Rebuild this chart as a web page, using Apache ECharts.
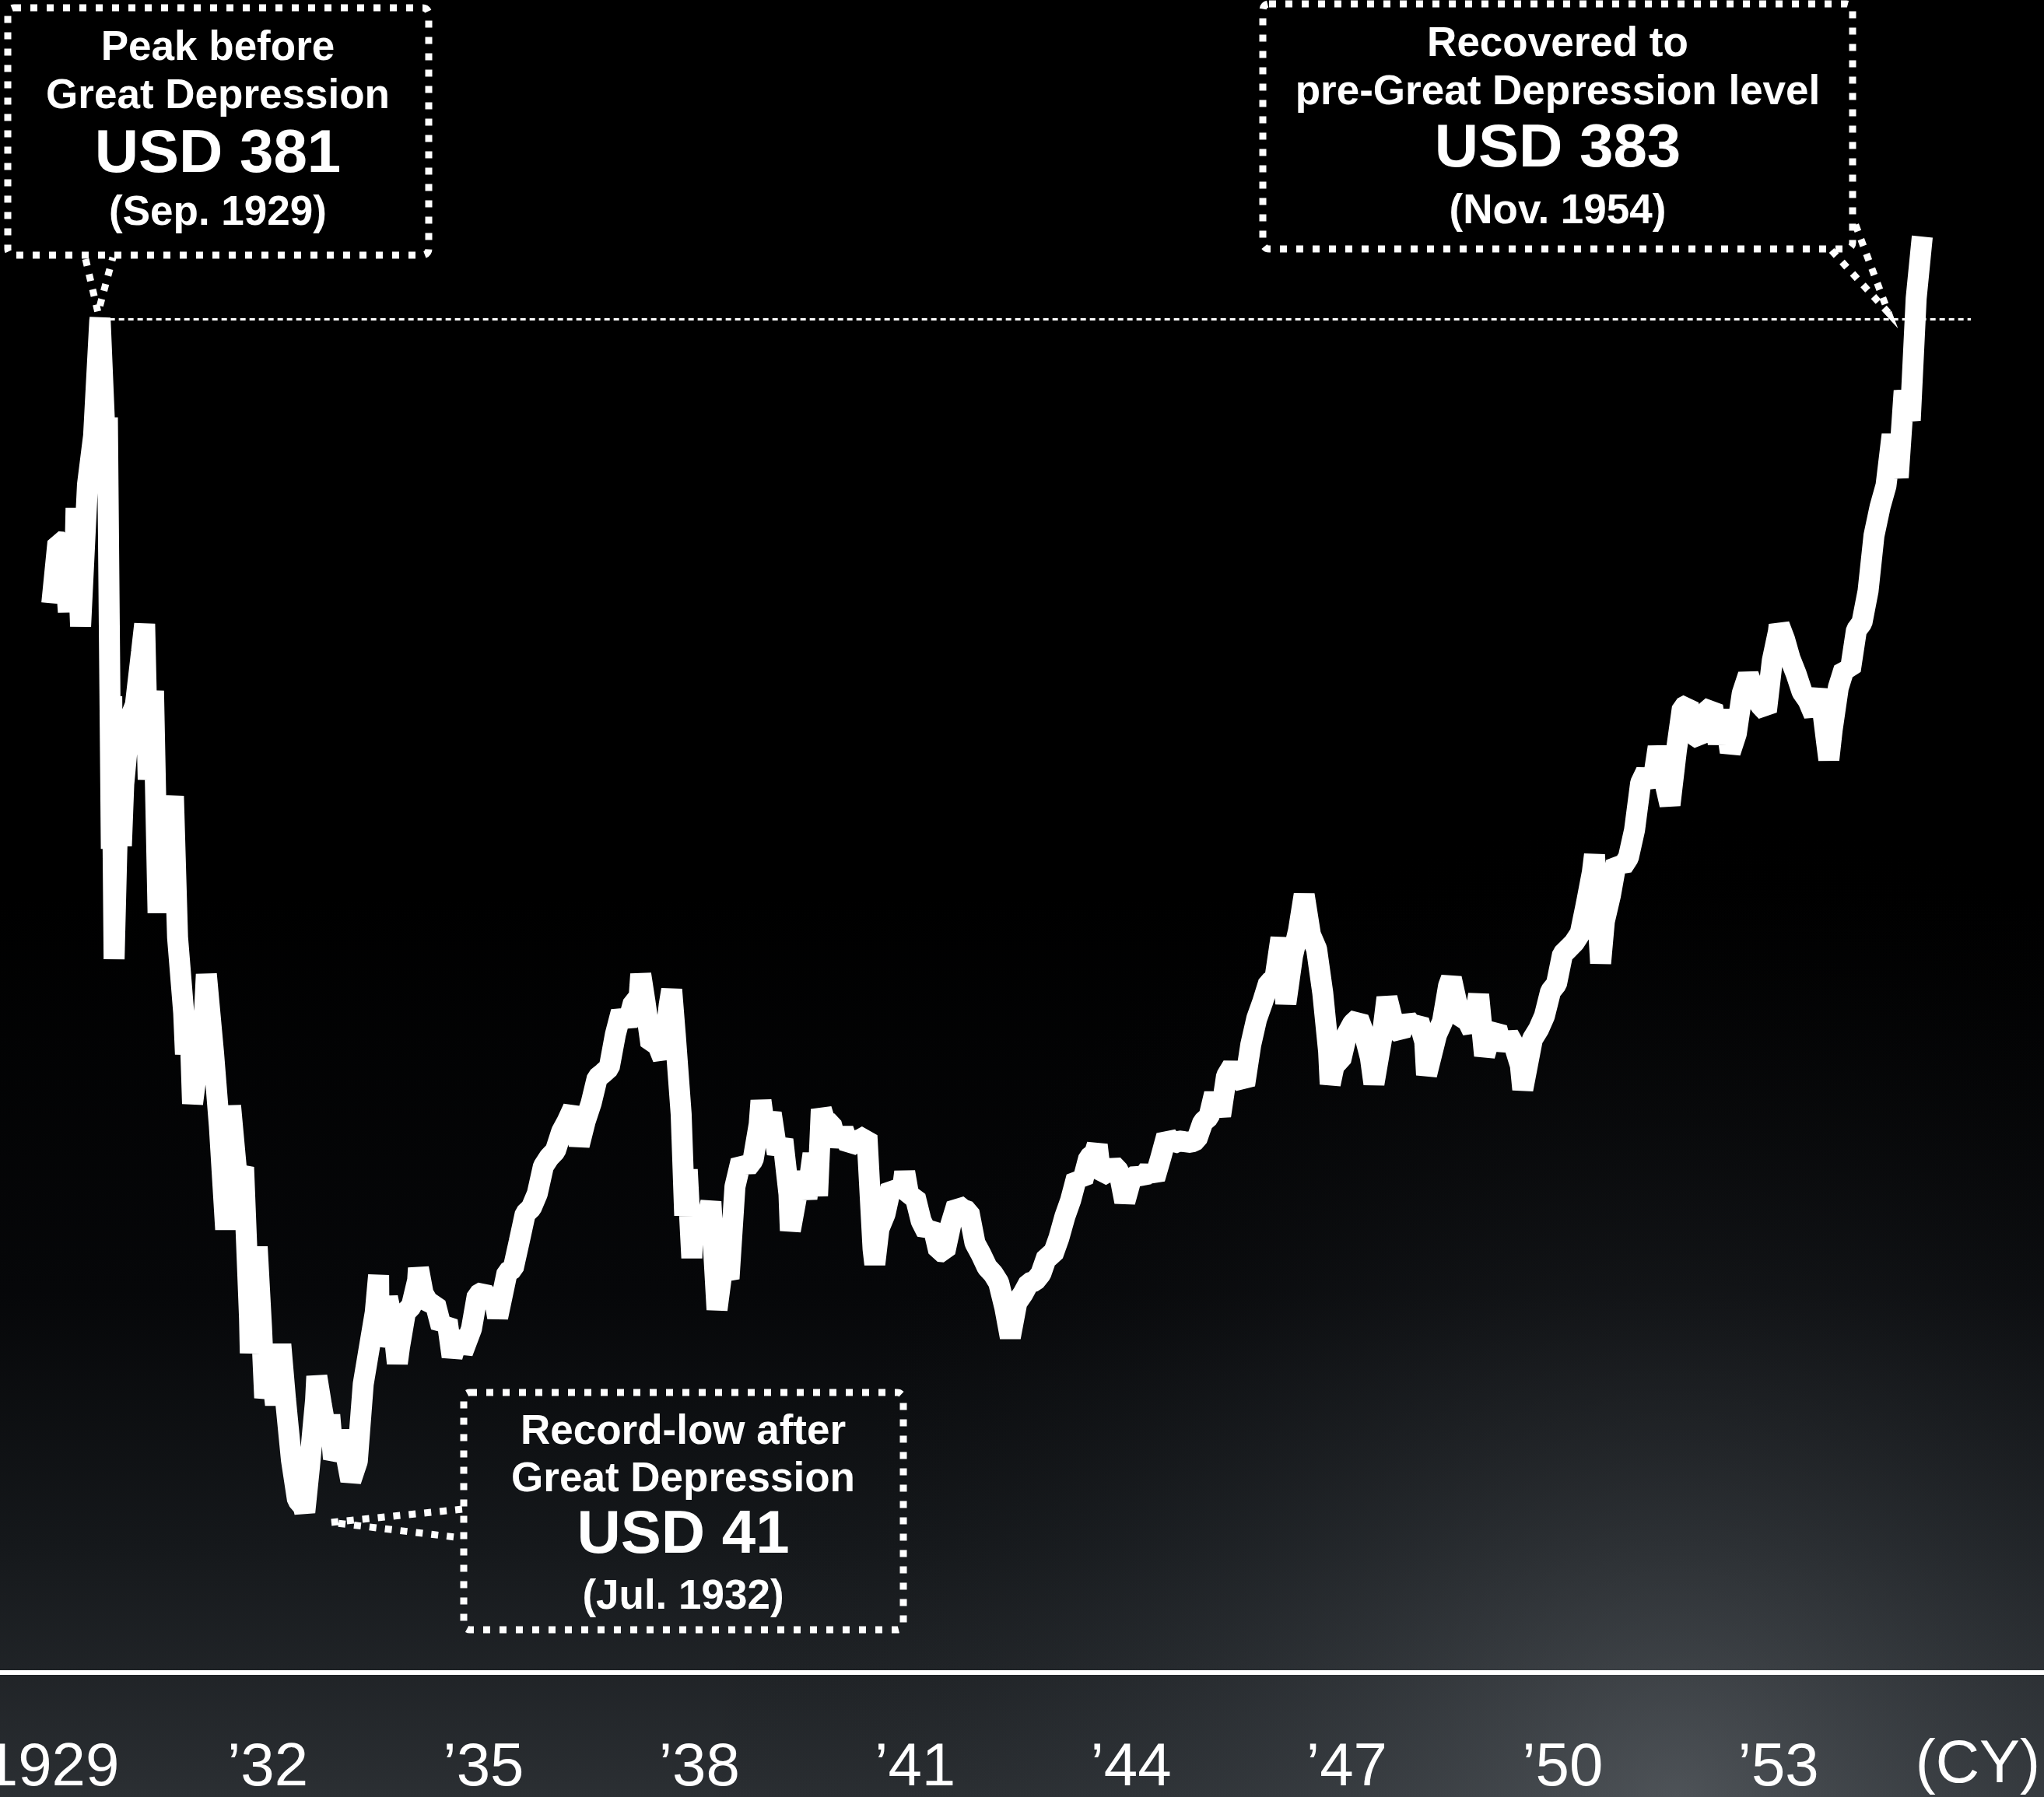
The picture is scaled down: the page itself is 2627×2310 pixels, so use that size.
<!DOCTYPE html>
<html>
<head>
<meta charset="utf-8">
<script src="https://cdn.jsdelivr.net/npm/echarts@6/dist/echarts.min.js"></script>
<style>
html,body{margin:0;padding:0;background:#000;}
#chart{width:2627px;height:2310px;}
</style>
</head>
<body>
<div id="chart"></div>
<script>
// ---- data (Dow Jones Industrial Average, USD) ----
const dates = [
'1929-01-01','1929-01-31','1929-02-28','1929-03-26','1929-03-31','1929-04-30','1929-05-04','1929-05-27','1929-06-30','1929-07-31','1929-08-31','1929-09-03','1929-09-30','1929-10-10','1929-10-29','1929-10-31','1929-11-13','1929-11-30','1929-12-09','1929-12-20','1929-12-31',
'1930-01-31','1930-02-28','1930-03-31','1930-04-17','1930-05-05','1930-05-31','1930-06-24','1930-06-30','1930-07-31','1930-08-31','1930-09-10','1930-09-30','1930-10-31','1930-11-10','1930-11-30','1930-12-16','1930-12-31',
'1931-01-31','1931-02-24','1931-03-31','1931-04-30','1931-06-02','1931-06-27','1931-07-31','1931-08-31','1931-09-30','1931-10-05','1931-11-09','1931-11-30','1931-12-17','1931-12-31',
'1932-01-14','1932-02-10','1932-03-08','1932-03-31','1932-04-30','1932-05-31','1932-06-30','1932-07-08','1932-07-31','1932-08-31','1932-09-07','1932-09-30','1932-10-31','1932-11-12','1932-11-30','1932-12-31',
'1933-01-11','1933-02-27','1933-03-31','1933-04-30','1933-05-31','1933-06-30','1933-07-18','1933-07-21','1933-07-31','1933-08-31','1933-09-30','1933-10-21','1933-10-31','1933-11-30','1933-12-31',
'1934-01-31','1934-02-05','1934-02-28','1934-03-31','1934-04-30','1934-05-31','1934-06-30','1934-07-26','1934-08-31','1934-09-17','1934-10-31','1934-11-30','1934-12-31',
'1935-01-31','1935-02-28','1935-03-14','1935-04-30','1935-05-31','1935-06-30','1935-07-31','1935-08-31','1935-09-30','1935-10-31','1935-11-30','1935-12-31',
'1936-01-31','1936-02-29','1936-03-31','1936-04-30','1936-05-31','1936-06-30','1936-07-31','1936-08-31','1936-09-30','1936-10-31','1936-11-30','1936-12-31',
'1937-01-31','1937-02-28','1937-03-10','1937-03-31','1937-04-30','1937-05-31','1937-06-30','1937-07-31','1937-08-14','1937-08-31','1937-09-30','1937-10-19','1937-10-31','1937-11-24','1937-11-30','1937-12-31',
'1938-01-31','1938-02-28','1938-03-31','1938-04-30','1938-05-31','1938-06-30','1938-07-31','1938-08-31','1938-09-30','1938-10-31','1938-11-10','1938-11-30','1938-12-31',
'1939-01-31','1939-02-28','1939-03-31','1939-04-08','1939-04-30','1939-05-31','1939-06-30','1939-07-31','1939-08-24','1939-09-12','1939-09-30','1939-10-31','1939-11-30','1939-12-31',
'1940-01-31','1940-02-29','1940-03-31','1940-04-30','1940-05-31','1940-06-10','1940-06-30','1940-07-31','1940-08-31','1940-09-30','1940-10-31','1940-11-09','1940-11-30','1940-12-31',
'1941-01-31','1941-02-28','1941-03-31','1941-04-30','1941-05-31','1941-06-30','1941-07-31','1941-08-31','1941-09-30','1941-10-31','1941-11-30','1941-12-31',
'1942-01-31','1942-02-28','1942-03-31','1942-04-28','1942-05-31','1942-06-30','1942-07-31','1942-08-31','1942-09-30','1942-10-31','1942-11-30','1942-12-31',
'1943-01-31','1943-02-28','1943-03-31','1943-04-30','1943-05-31','1943-06-30','1943-07-14','1943-07-31','1943-08-31','1943-09-30','1943-10-31','1943-11-30','1943-12-31',
'1944-01-31','1944-02-29','1944-03-31','1944-04-30','1944-05-31','1944-06-30','1944-07-31','1944-08-31','1944-09-30','1944-10-31','1944-11-30','1944-12-31',
'1945-01-31','1945-02-28','1945-03-31','1945-04-30','1945-05-31','1945-06-30','1945-07-31','1945-08-31','1945-09-30','1945-10-31','1945-11-30','1945-12-31',
'1946-01-31','1946-02-26','1946-03-31','1946-04-30','1946-05-29','1946-06-30','1946-07-31','1946-08-31','1946-09-30','1946-10-09','1946-10-31','1946-11-30','1946-12-31',
'1947-01-31','1947-02-28','1947-03-31','1947-04-30','1947-05-19','1947-06-30','1947-07-24','1947-08-31','1947-09-30','1947-10-31','1947-11-30','1947-12-31',
'1948-01-31','1948-02-10','1948-03-31','1948-04-30','1948-05-31','1948-06-15','1948-07-31','1948-08-31','1948-09-30','1948-10-31','1948-11-30','1948-12-31',
'1949-01-31','1949-02-28','1949-03-31','1949-04-30','1949-05-31','1949-06-13','1949-07-31','1949-08-31','1949-09-30','1949-10-31','1949-11-30','1949-12-31',
'1950-01-31','1950-02-28','1950-03-31','1950-04-30','1950-05-31','1950-06-12','1950-07-13','1950-07-31','1950-08-31','1950-09-30','1950-10-31','1950-11-30','1950-12-31',
'1951-01-31','1951-02-28','1951-03-31','1951-04-30','1951-05-31','1951-06-29','1951-07-31','1951-08-31','1951-09-30','1951-10-31','1951-11-30','1951-12-31',
'1952-01-31','1952-02-29','1952-03-31','1952-04-30','1952-05-31','1952-06-30','1952-07-31','1952-08-31','1952-09-30','1952-10-31','1952-11-30','1952-12-31',
'1953-01-05','1953-01-31','1953-02-28','1953-03-31','1953-04-30','1953-05-31','1953-06-30','1953-07-31','1953-08-31','1953-09-14','1953-09-30','1953-10-31','1953-11-30','1953-12-31',
'1954-01-31','1954-02-28','1954-03-31','1954-04-30','1954-05-31','1954-06-30','1954-07-31','1954-08-31','1954-09-30','1954-10-31','1954-11-30','1954-12-31'
];
const values = [
300.0,317.5,317.4,297.5,308.9,319.3,327.1,293.4,333.8,347.7,380.3,381.2,343.5,352.9,230.1,273.5,198.7,238.9,263.5,230.9,248.5,
267.1,271.1,286.1,294.1,249.8,275.1,211.8,226.3,233.5,240.4,245.1,204.9,183.4,171.6,183.4,157.5,164.6,
167.6,194.4,172.4,151.2,121.7,156.9,135.4,139.4,96.6,86.5,116.8,93.9,73.8,77.9,
85.9,71.8,89.0,73.3,56.1,44.7,42.8,41.2,54.3,73.2,79.9,71.6,61.9,68.9,56.4,59.9,
64.4,50.2,55.7,77.7,88.1,98.1,108.7,88.7,90.8,102.4,94.4,83.6,88.2,98.1,99.9,
107.2,110.7,103.5,100.5,100.7,94.0,95.7,85.5,92.6,86.7,93.4,103.0,104.0,
101.7,101.0,96.7,109.5,110.6,118.2,126.2,127.9,131.9,139.7,142.3,144.1,
149.5,152.5,156.3,145.7,152.6,157.7,164.9,166.3,167.8,177.2,183.7,179.9,
186.4,187.2,194.4,186.4,174.3,174.7,170.5,185.5,190.0,177.4,154.6,125.7,138.8,113.6,123.5,121.0,
121.9,129.6,98.9,111.7,107.7,133.9,141.3,139.3,141.5,151.7,158.4,149.8,154.8,
143.3,147.3,131.8,121.4,128.5,138.0,130.6,143.3,131.3,155.9,152.5,151.9,145.7,150.2,
145.3,146.5,147.5,148.4,116.2,111.8,121.9,126.1,134.0,132.6,134.6,138.1,131.0,131.1,
124.1,121.0,122.7,115.5,115.3,123.1,128.8,127.4,126.8,117.8,114.7,111.0,
109.1,106.6,99.5,91.0,100.9,103.3,106.5,107.0,109.1,114.1,114.5,119.4,
125.6,130.0,136.6,135.5,142.1,143.4,145.8,137.0,138.0,140.1,138.3,129.6,135.9,
137.4,136.3,138.8,136.2,142.2,148.4,146.1,146.9,146.7,146.5,147.3,152.3,
153.8,160.4,154.1,165.4,168.3,165.3,162.9,174.3,181.7,186.6,192.0,192.9,
204.7,186.0,199.6,206.8,217.0,205.6,201.6,189.2,172.4,163.1,169.2,169.8,177.2,
180.4,181.8,177.2,170.6,163.2,177.3,187.7,178.9,177.5,181.8,179.4,181.2,
175.1,165.7,177.2,180.9,191.1,193.2,181.3,181.7,178.3,188.6,171.2,177.3,
179.1,173.1,177.1,174.1,168.4,161.6,175.9,178.7,182.5,189.5,191.6,200.1,
201.8,203.4,206.1,214.3,223.4,228.4,197.5,209.4,216.9,226.4,225.0,227.6,235.4,
248.8,252.1,247.9,259.1,249.7,242.6,257.9,270.3,271.2,262.4,261.3,269.2,
270.7,260.1,269.5,257.6,262.9,274.3,279.6,275.0,271.0,269.2,283.7,291.9,
293.8,289.8,284.3,279.9,274.8,272.3,268.3,275.4,261.2,255.5,264.0,276.0,281.4,280.9,
292.4,294.5,303.5,319.3,327.5,333.5,348.0,335.8,360.5,352.1,386.8,404.4
];
const tickYears = [1929, 1932, 1935, 1938, 1941, 1944, 1947, 1950, 1953];
const tickLabels = ['1929', '’32', '’35', '’38', '’41', '’44', '’47', '’50', '’53'];
const axisUnit = '(CY)';
const peakDate = '1929-09-03';
const peakValue = 381;
const noteLines = [
  ['Peak before', 'Great Depression', 'USD 381', '(Sep. 1929)'],
  ['Recovered to', 'pre-Great Depression level', 'USD 383', '(Nov. 1954)'],
  ['Record-low after', 'Great Depression', 'USD 41', '(Jul. 1932)']
];

function toYear(s) {
  const p = s.split('-').map(Number);
  const a = Date.UTC(p[0], 0, 1), b = Date.UTC(p[0] + 1, 0, 1);
  return p[0] + (Date.UTC(p[0], p[1] - 1, p[2]) - a) / (b - a);
}
const seriesData = dates.map((d, i) => [toYear(d) + (d.endsWith('-31') || d.endsWith('-30') || d.endsWith('-28') || d.endsWith('-29') ? 1/365 : 0), values[i]]);

const FONT = '"Liberation Sans", Arial, Helvetica, sans-serif';
const X_MIN = 1928.2797, X_MAX = 1956.692;

function textEl(str, x, y, size) {
  return { type: 'text', z: 20, x: x, y: y,
    style: { text: str, fill: '#fff', fontSize: size, fontWeight: 'bold', fontFamily: FONT, align: 'center', verticalAlign: 'middle' } };
}
function noteBox(rect, cx, ys, lines, tail) {
  const els = [{ type: 'rect', z: 20, shape: { x: rect[0], y: rect[1], width: rect[2], height: rect[3], r: 8 },
    style: { fill: 'none', stroke: '#fff', lineWidth: 9, lineDash: [9, 12] } },
    { type: 'polyline', z: 20, shape: { points: tail },
    style: { fill: 'none', stroke: '#fff', lineWidth: 9, lineDash: [9, 11] } }];
  lines.forEach((t, i) => els.push(textEl(t, cx, ys[i], i === 2 ? 78 : 53)));
  return els;
}

const chart = echarts.init(document.getElementById('chart'), null, { renderer: 'canvas' });
const graphics = [
  { type: 'rect', z: -10, shape: { x: 0, y: 0, width: 2627, height: 2310 },
    style: { fill: new echarts.graphic.RadialGradient(0.82, 1.0, 0.55, [
      { offset: 0, color: 'rgba(120,126,132,0.45)' },
      { offset: 0.6, color: 'rgba(60,66,72,0.15)' },
      { offset: 1, color: 'rgba(0,0,0,0)' }]) } }
].concat(
  noteBox([10, 10, 541, 318], 280, [62, 124, 199, 274], noteLines[0], [[110, 333], [126, 402], [145, 331]]),
  noteBox([1623, 5, 758, 315], 2002, [57, 119, 192, 272], noteLines[1], [[2354, 322], [2427, 402], [2384, 287]]),
  noteBox([596, 1790, 565, 305], 878, [1841, 1902, 1974, 2053], noteLines[2], [[594, 1940], [425, 1957], [594, 1977]])
);

chart.setOption({
  animation: false,
  backgroundColor: new echarts.graphic.LinearGradient(0, 0, 0, 1, [
    { offset: 0, color: '#000000' },
    { offset: 0.5, color: '#000000' },
    { offset: 0.72, color: '#060709' },
    { offset: 0.86, color: '#15181b' },
    { offset: 1, color: '#2b2f33' }
  ]),
  grid: { left: 0, right: 0, top: 233.7, bottom: 160, containLabel: false, outerBoundsMode: 'none' },
  xAxis: {
    type: 'value', min: X_MIN, max: X_MAX,
    splitLine: { show: false },
    axisTick: { show: false },
    axisLine: { show: true, onZero: false, lineStyle: { color: '#ffffff', width: 6 } },
    axisLabel: {
      show: true, customValues: tickYears, color: '#ffffff', fontSize: 78, fontFamily: FONT, margin: 84,
      formatter: function (v) { const i = tickYears.indexOf(Math.round(v)); return i >= 0 ? tickLabels[i] : ''; }
    },
    name: axisUnit, nameLocation: 'end', nameGap: -5,
    nameTextStyle: { color: '#ffffff', fontSize: 78, fontFamily: FONT, align: 'right', verticalAlign: 'top', padding: [80, 0, 0, 0] }
  },
  yAxis: { type: 'value', min: -4.43, max: 420, show: false, splitLine: { show: false } },
  graphic: graphics,
  series: [{
    type: 'line', data: seriesData, showSymbol: false, symbol: 'none', clip: false, z: 5,
    lineStyle: { color: '#ffffff', width: 27, join: 'bevel', cap: 'butt' },
    markLine: {
      silent: true, symbol: ['none', 'none'], label: { show: false },
      lineStyle: { color: '#ffffff', width: 3, type: [7, 5] },
      data: [[{ coord: [toYear(peakDate), peakValue] }, { coord: [1955.675, peakValue] }]]
    }
  }]
});
</script>
</body>
</html>
